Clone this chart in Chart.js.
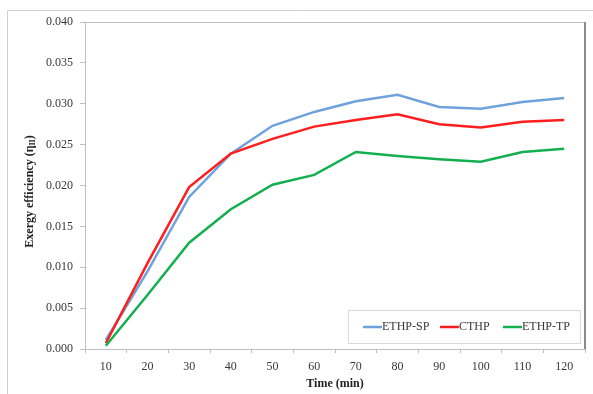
<!DOCTYPE html>
<html>
<head>
<meta charset="utf-8">
<script src="https://cdn.jsdelivr.net/npm/chart.js@4"></script>
<style>
  html, body { margin: 0; padding: 0; background: #fff; }
  #wrap { width: 593px; height: 394px; position: relative; }
</style>
</head>
<body>
<div id="wrap"><canvas id="myChart" width="593" height="394"></canvas></div>
<script>
// Datos
const timeLabels = ["10", "20", "30", "40", "50", "60", "70", "80", "90", "100", "110", "120"];
const ethpSP = [0.0011, 0.0095, 0.0186, 0.0239, 0.0273, 0.0290, 0.0303, 0.0311, 0.0296, 0.0294, 0.0302, 0.0307];
const cthp   = [0.0007, 0.0105, 0.0198, 0.0239, 0.0257, 0.0272, 0.0280, 0.0287, 0.0275, 0.0271, 0.0278, 0.0280];
const ethpTP = [0.0004, 0.0066, 0.0130, 0.0171, 0.0201, 0.0213, 0.0241, 0.0236, 0.0232, 0.0229, 0.0241, 0.0245];

const serif = "Liberation Serif";
const textColor = "#383838";
Chart.defaults.font.family = serif;

// Marco exterior y bordes del area de trazado
const framePlugin = {
    id: "frame",
    beforeDraw(chart) {
        const c = chart.ctx;
        const a = chart.chartArea;
        c.save();
        c.fillStyle = "#fff";
        c.fillRect(0, 0, chart.width, chart.height);
        c.strokeStyle = "#d0d0d0";
        c.lineWidth = 1;
        c.beginPath();
        c.moveTo(7.5, chart.height);
        c.lineTo(7.5, 10.5);
        c.lineTo(chart.width, 10.5);
        c.stroke();
        // borde superior
        c.strokeStyle = "#bfbfbf";
        c.beginPath();
        c.moveTo(a.left, a.top + 0.5);
        c.lineTo(a.right, a.top + 0.5);
        c.stroke();
        // borde derecho
        c.strokeStyle = "#8c8c8c";
        c.lineWidth = 2;
        c.beginPath();
        c.moveTo(a.right, a.top);
        c.lineTo(a.right, a.bottom);
        c.stroke();
        c.restore();
    },
    afterDraw(chart) {
        const c = chart.ctx;
        const a = chart.chartArea;
        c.save();
        // titulo del eje Y con subindice
        c.translate(30, (a.top + a.bottom) / 2 + 6);
        c.rotate(-Math.PI / 2);
        c.fillStyle = "#222";
        c.textBaseline = "middle";
        const main = "Exergy efficiency (\u03b7";
        const sub = "II";
        c.font = "bold 12px '" + serif + "'";
        const w1 = c.measureText(main).width;
        c.font = "bold 8px '" + serif + "'";
        const w2 = c.measureText(sub).width;
        c.font = "bold 12px '" + serif + "'";
        const w3 = c.measureText(")").width;
        let x = -(w1 + w2 + w3) / 2;
        c.fillText(main, x, 0);
        x += w1;
        c.font = "bold 8px '" + serif + "'";
        c.fillText(sub, x, 3);
        x += w2;
        c.font = "bold 12px '" + serif + "'";
        c.fillText(")", x, 0);
        c.restore();

        // leyenda dentro del area
        c.save();
        const bx = 348, by = 310, bw = 232, bh = 33;
        c.fillStyle = "#fff";
        c.fillRect(bx, by, bw, bh);
        c.strokeStyle = "#d9d9d9";
        c.lineWidth = 1;
        c.strokeRect(bx + 0.5, by + 0.5, bw, bh);
        const itemX = [363, 440, 503];
        const ly = by + bh / 2 + 0.5;
        c.font = "12px '" + serif + "'";
        c.textBaseline = "middle";
        chart.data.datasets.forEach((ds, i) => {
            c.strokeStyle = ds.borderColor;
            c.lineWidth = 2.5;
            c.beginPath();
            c.moveTo(itemX[i], ly);
            c.lineTo(itemX[i] + 19, ly);
            c.stroke();
            c.fillStyle = textColor;
            c.fillText(ds.label, itemX[i] + 19, ly);
        });
        c.restore();
    }
};

const ctx = document.getElementById("myChart").getContext("2d");
let myChart = new Chart(ctx, {
    type: "line",
    data: {
        labels: timeLabels,
        datasets: [
            {
                label: "ETHP-SP",
                data: ethpSP,
                borderColor: "rgb(110, 162, 220)",
                borderWidth: 2.5,
                pointRadius: 0,
                order: 2,
            },
            {
                label: "CTHP",
                data: cthp,
                borderColor: "rgb(255, 30, 30)",
                borderWidth: 2.5,
                pointRadius: 0,
                order: 1,
            },
            {
                label: "ETHP-TP",
                data: ethpTP,
                borderColor: "rgb(20, 176, 80)",
                borderWidth: 2.5,
                pointRadius: 0,
                order: 0,
            }
        ],
    },
    options: {
        responsive: false,
        animation: false,
        layout: { padding: { left: 10, right: 8, top: 22, bottom: 3 } },
        plugins: {
            legend: { display: false },
            tooltip: { enabled: false },
        },
        scales: {
            x: {
                offset: true,
                grid: {
                    offset: true,
                    drawOnChartArea: false,
                    tickLength: 4,
                    color: "#bfbfbf",
                },
                border: { color: "#bfbfbf" },
                ticks: {
                    color: textColor,
                    font: { family: serif, size: 12 },
                    padding: 7,
                    maxRotation: 0,
                },
                title: {
                    display: true,
                    text: "Time (min)",
                    color: "#222",
                    font: { family: serif, size: 12, weight: "bold" },
                    padding: { top: 1, bottom: 0 },
                },
                afterFit(scale) { scale.height = 42; },
            },
            y: {
                min: 0,
                max: 0.04,
                grid: {
                    drawOnChartArea: false,
                    tickLength: 5,
                    color: "#bfbfbf",
                },
                border: { color: "#bfbfbf" },
                ticks: {
                    stepSize: 0.005,
                    color: textColor,
                    font: { family: serif, size: 12 },
                    padding: 7,
                    callback: (v) => v.toFixed(3),
                },
                afterFit(scale) { scale.width = 75; },
            },
        },
    },
    plugins: [framePlugin],
});
</script>
</body>
</html>
